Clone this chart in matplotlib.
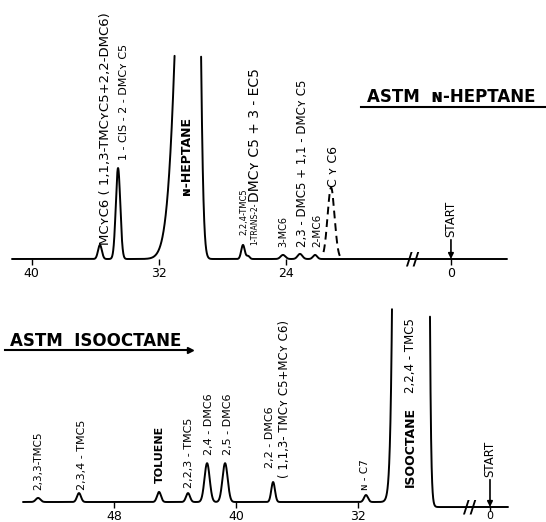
import matplotlib.pyplot as plt
from matplotlib.lines import Line2D
import numpy as np

# Upper run: ASTM n-heptane. Time in min, height in % of full chart scale.
hep_time = [35.70, 34.56, 29.74, 26.69, 26.37, 24.17, 23.10, 22.15]
hep_height = [6.9, 44.6, 408.0, 6.9, 1.5, 2.0, 2.5, 2.0]
hep_sig_front = [0.12, 0.14, 0.75, 0.11, 0.10, 0.15, 0.15, 0.13]
hep_sig_back = [0.12, 0.14, 0.245, 0.11, 0.10, 0.15, 0.15, 0.13]
cyc6_time = 21.14          # dashed (added cyclohexane) peak
cyc6_height = 35.0
cyc6_sigma = 0.22
hep_ticks = [40, 32, 24]

# Lower run: ASTM isooctane
iso_time = [52.98, 50.30, 45.05, 43.15, 41.90, 40.72, 37.57, 31.48, 28.22]
iso_height = [2.1, 4.6, 5.2, 4.6, 20.0, 20.0, 10.3, 3.6, 62900.0]
iso_sig_front = [0.15, 0.13, 0.13, 0.13, 0.17, 0.17, 0.12, 0.13, 0.433]
iso_sig_back = [0.15, 0.13, 0.13, 0.13, 0.17, 0.17, 0.12, 0.13, 0.26]
iso_drift = -2.6           # baseline shift after the isooctane peak
iso_drift_time = 27.15
iso_ticks = [48, 40, 32]

# peak labels: text, time, bottom of text (%), size, weight
hep_labels = [
    ('MCʏC6 ( 1,1,3-TMCʏC5+2,2-DMC6)', 35.38, 6.9, 9.5, 'normal'),
    ('1 - CIS - 2 - DMCʏ C5', 34.18, 48.5, 8, 'normal'),
    ('ɴ-HEPTANE', 30.22, 31.4, 9, 'bold'),
    ('2,2,4-TMC5', 26.63, 11.8, 6, 'normal'),
    ('1-TRANS-2-', 25.93, 6.9, 5.5, 'normal'),
    ('DMCʏ C5 + 3 - EC5', 25.93, 28.0, 10, 'normal'),
    ('3-MC6', 24.17, 5.9, 7, 'normal'),
    ('2,3 - DMC5 + 1,1 - DMCʏ C5', 22.97, 5.9, 8.5, 'normal'),
    ('2-MC6', 22.02, 5.9, 7.5, 'normal'),
    ('C ʏ C6', 21.01, 35.3, 9, 'normal'),
]
iso_labels = [
    ('2,3,3-TMC5', 52.98, 6.2, 7.5, 'normal'),
    ('2,3,4 - TMC5', 50.10, 6.2, 8, 'normal'),
    ('TOLUENE', 44.98, 9.8, 8, 'bold'),
    ('2,2,3 - TMC5', 43.08, 7.2, 8, 'normal'),
    ('2,4 - DMC6', 41.77, 24.2, 8, 'normal'),
    ('2,5 - DMC6', 40.52, 24.2, 8, 'normal'),
    ('2,2 - DMC6', 37.77, 17.5, 8, 'normal'),
    ('( 1,1,3- TMCʏ C5+MCʏ C6)', 36.85, 12.4, 8.5, 'normal'),
    ('ɴ - C7', 31.54, 6.2, 7.5, 'normal'),
    ('ISOOCTANE', 28.59, 7.7, 9, 'bold'),
    ('2,2,4 - TMC5', 28.59, 56.2, 8.5, 'normal'),
]

W, H = 546, 522
INK = 'black'


def trace(t, times, heights, sig_front, sig_back):
    y = np.zeros_like(t)
    for c, h, a, b in zip(times, heights, sig_front, sig_back):
        s = np.where(t > c, a, b)
        y += h * np.exp(-0.5 * ((t - c) / s) ** 2)
    return y


def rect(x0, x1, ybot, ytop):
    # pixel box -> figure fraction
    return [x0 / W, 1 - ybot / H, (x1 - x0) / W, (ybot - ytop) / H]


def clean(ax, ticks, pad=2, length=4):
    for s in ax.spines.values():
        s.set_visible(False)
    ax.set_yticks([])
    ax.set_xticks(ticks)
    ax.tick_params(axis='x', length=length, width=1, pad=pad, labelsize=9, colors=INK)
    ax.patch.set_alpha(0)


def draw_chrom(ax, t, y):
    y = y.copy()
    y[y > 100] = np.nan      # pen off scale
    ax.plot(t, y, color=INK, lw=1.4, clip_on=False, solid_capstyle='round')


def put_labels(ax, labels):
    for txt, x, yb, size, weight in labels:
        ax.text(x, yb, txt, rotation=90, ha='center', va='bottom',
                fontsize=size, fontweight=weight, color=INK)


def start_arrow(ax, ytext, ybase, size):
    ax.annotate('START', xy=(0, ybase), xytext=(0, ytext), rotation=90,
                ha='center', va='bottom', fontsize=size, color=INK,
                arrowprops=dict(arrowstyle='-|>', color=INK, lw=1.2,
                                shrinkA=0, shrinkB=0, mutation_scale=8))


fig = plt.figure(figsize=(W / 100, H / 100), dpi=100)

# ---- upper chromatogram ----
ax1 = fig.add_axes(rect(12, 413, 259, 0))
ax1.set_xlim(41.24, 15.98)
ax1.set_ylim(0, 259 / 2.04)
t1 = np.linspace(41.24, 15.98, 6000)
draw_chrom(ax1, t1, trace(t1, hep_time, hep_height, hep_sig_front, hep_sig_back))
tc = np.linspace(cyc6_time - 0.55, cyc6_time + 0.55, 300)
ax1.plot(tc, cyc6_height * np.exp(-0.5 * ((tc - cyc6_time) / cyc6_sigma) ** 2),
         color=INK, lw=1.4, ls=(0, (4, 2.5)), clip_on=False)
put_labels(ax1, hep_labels)
clean(ax1, hep_ticks)

ax1r = fig.add_axes(rect(413, 507, 259, 0))
ax1r.set_xlim(2.39, -3.53)
ax1r.set_ylim(0, 259 / 2.04)
t1r = np.linspace(2.39, -3.53, 200)
draw_chrom(ax1r, t1r, np.zeros_like(t1r))
start_arrow(ax1r, 10.8, 0, 8.5)
ax1r.text(0, 0, '//', transform=ax1r.transAxes, ha='center', va='center',
          fontsize=13, fontweight='bold', color=INK)
clean(ax1r, [0])

fig.text(367 / W, 1 - 97 / H, 'ASTM  ɴ-HEPTANE', fontsize=12, fontweight='bold',
         ha='left', va='center', color=INK)
fig.add_artist(Line2D([361 / W, 1.0], [1 - 107 / H] * 2, transform=fig.transFigure,
                      color=INK, lw=1.5))

# ---- lower chromatogram ----
ax2 = fig.add_axes(rect(23, 470, 502, 280))
ax2.set_xlim(53.97, 24.66)
ax2.set_ylim(0, 222 / 1.94)
t2 = np.linspace(53.97, 24.66, 8000)
step = 0.5 * (1 + np.tanh((iso_drift_time - t2) / 0.15))
y2 = trace(t2, iso_time, iso_height, iso_sig_front, iso_sig_back) + iso_drift * step
draw_chrom(ax2, t2, y2)
put_labels(ax2, iso_labels)
clean(ax2, iso_ticks)

ax2r = fig.add_axes(rect(470, 508, 507, 280))
ax2r.set_xlim(1.31, -1.18)
ax2r.set_ylim(iso_drift, iso_drift + 227 / 1.94)
t2r = np.linspace(1.31, -1.18, 100)
draw_chrom(ax2r, t2r, np.full_like(t2r, iso_drift))
start_arrow(ax2r, 12.9, iso_drift, 8.5)
ax2r.text(0, 0, '//', transform=ax2r.transAxes, ha='center', va='center',
          fontsize=13, fontweight='bold', color=INK)
clean(ax2r, [0], pad=0, length=3)
ax2r.tick_params(axis='x', labelsize=8)

fig.text(10 / W, 1 - 341 / H, 'ASTM  ISOOCTANE', fontsize=12, fontweight='bold',
         ha='left', va='center', color=INK)
fig.add_artist(Line2D([5 / W, 190 / W], [1 - 350 / H] * 2, transform=fig.transFigure,
                      color=INK, lw=1.5))
fig.add_artist(Line2D([190 / W], [1 - 350 / H], transform=fig.transFigure,
                      marker='>', markersize=4, color=INK))

fig.savefig('out.png', dpi=100)
